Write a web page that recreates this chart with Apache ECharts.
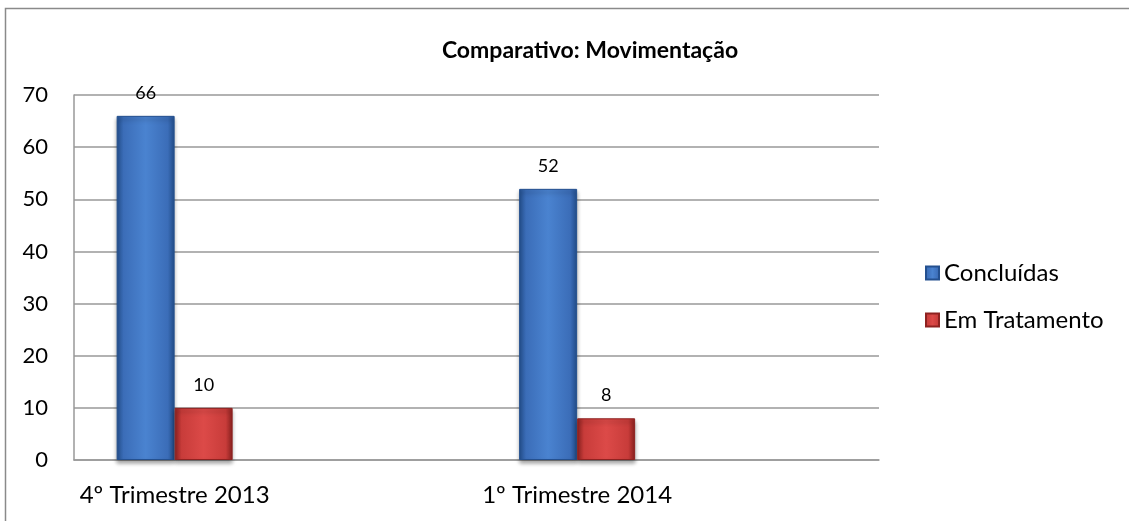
<!DOCTYPE html>
<html>
<head>
<meta charset="utf-8">
<script src="https://cdn.jsdelivr.net/npm/echarts@6/dist/echarts.min.js"></script>
<style>
  html, body { margin: 0; padding: 0; background: #fff; }
  #chart { width: 1129px; height: 521px; }
</style>
</head>
<body>
<div id="chart"></div>
<script>
	var categories = ['4º Trimestre 2013', '1º Trimestre 2014'];
	var concluidas = [66, 52];
	var emTratamento = [10, 8];
	var yMin = 0, yMax = 70, yStep = 10;

	var chartDom = document.getElementById('chart');
	var myChart = echarts.init(chartDom);
	var font = 'Lato';

	// each category gets an empty slot after it, so the bar pairs sit left like in the original
	var axisCats = categories.flatMap(function (c) { return [c, '']; });
	function spread(arr) { return arr.flatMap(function (v) { return [v, '-']; }); }

	function barStyle(light, mid, dark) {
		return {
			color: new echarts.graphic.LinearGradient(0, 0, 1, 0, [
				{offset: 0, color: dark},
				{offset: 0.12, color: mid},
				{offset: 0.5, color: light},
				{offset: 0.88, color: mid},
				{offset: 1, color: dark}
			]),
			borderColor: dark,
			borderWidth: 1,
			shadowColor: 'rgba(0,0,0,0.35)',
			shadowBlur: 4,
			shadowOffsetY: 3
		};
	}
	var label = {show: true, position: 'top', distance: 14, fontSize: 18, color: '#000', fontFamily: font};

	var option = {
		animation: false,
		title: {
			text: 'Comparativo: Movimentação',
			left: 585, top: 34, textAlign: 'center',
			textStyle: {fontSize: 23, fontWeight: 'bold', color: '#000', fontFamily: font}
		},
		legend: {
			orient: 'vertical',
			left: 920, top: 256,
			itemWidth: 13, itemHeight: 13, itemGap: 23,
			icon: 'rect',
			textStyle: {fontSize: 24, color: '#000', fontFamily: font},
			data: ['Concluídas', 'Em Tratamento']
		},
		grid: {left: 74, right: 250, top: 95, bottom: 61},
		xAxis: {
			type: 'category',
			data: axisCats,
			axisLine: {lineStyle: {color: '#999', width: 1.5}},
			axisTick: {show: false},
			axisLabel: {interval: 0, fontSize: 24, color: '#000', margin: 23, fontFamily: font}
		},
		yAxis: {
			type: 'value',
			min: yMin, max: yMax, interval: yStep,
			axisLine: {show: true, lineStyle: {color: '#999', width: 1.5}},
			axisTick: {show: false},
			splitLine: {lineStyle: {color: '#999', width: 1.5}},
			axisLabel: {fontSize: 22, color: '#000', margin: 26, fontFamily: font}
		},
		graphic: [{
			type: 'rect', shape: {x: 5.5, y: 8.5, width: 1200, height: 600},
			style: {fill: 'none', stroke: '#8a8a8a', lineWidth: 1.5}, silent: true
		}],
		series: [
			{name: 'Concluídas', type: 'bar', data: spread(concluidas), barWidth: 58, barGap: '0%',
				itemStyle: barStyle('#4a83d0', '#3b6db8', '#24508f'), label: label},
			{name: 'Em Tratamento', type: 'bar', data: spread(emTratamento), barWidth: 58, barGap: '0%',
				itemStyle: barStyle('#dc4a48', '#c83c3a', '#8e2220'), label: label}
		]
	};
	option && myChart.setOption(option);
</script>
</body>
</html>
